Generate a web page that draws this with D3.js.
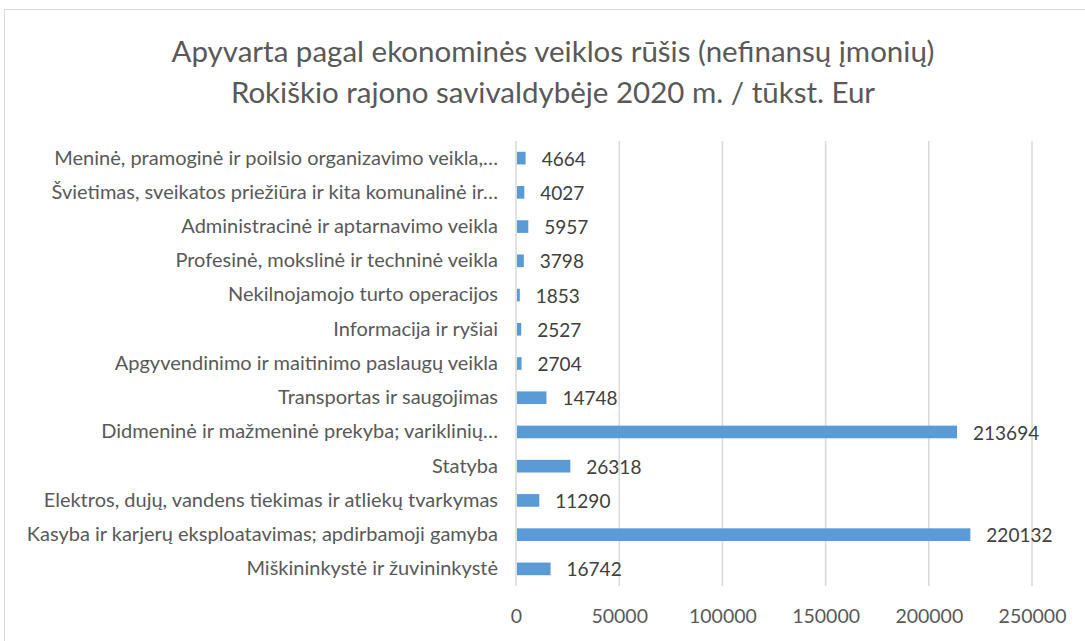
<!DOCTYPE html>
<html>
<head>
<meta charset="utf-8">
<script src="https://cdn.jsdelivr.net/npm/d3@7"></script>
<style>
  body { margin: 0; background: #fff; }
  svg { display: block; }
</style>
</head>
<body>
<svg width="1085" height="641"></svg>
<script>
// chart data, listed top to bottom as in the picture
var categories = [
  'Meninė, pramoginė ir poilsio organizavimo veikla,…',
  'Švietimas, sveikatos priežiūra ir kita komunalinė ir…',
  'Administracinė ir aptarnavimo veikla',
  'Profesinė, mokslinė ir techninė veikla',
  'Nekilnojamojo turto operacijos',
  'Informacija ir ryšiai',
  'Apgyvendinimo ir maitinimo paslaugų veikla',
  'Transportas ir saugojimas',
  'Didmeninė ir mažmeninė prekyba; variklinių…',
  'Statyba',
  'Elektros, dujų, vandens tiekimas ir atliekų tvarkymas',
  'Kasyba ir karjerų eksploatavimas; apdirbamoji gamyba',
  'Miškininkystė ir žuvininkystė'
];
var values = [4664, 4027, 5957, 3798, 1853, 2527, 2704, 14748, 213694, 26318, 11290, 220132, 16742];
var xTicks = [0, 50000, 100000, 150000, 200000, 250000];
var titleLines = [
  'Apyvarta pagal ekonominės veiklos rūšis (nefinansų įmonių)',
  'Rokiškio rajono savivaldybėje 2020 m. / tūkst. Eur'
];

var svg = d3.select('svg'),
    font = 'Lato, "Open Sans", sans-serif',
    plotL = 516, plotR = 1032, plotT = 141, plotB = 586;

// chart frame
svg.append('rect')
  .attr('x', 4.5)
  .attr('y', 9.5)
  .attr('width', 1200)
  .attr('height', 800)
  .attr('fill', '#fff')
  .attr('stroke', '#d9d9d9')
  .attr('stroke-width', 1);

svg.selectAll('.title')
  .data(titleLines)
  .enter().append('text')
  .attr('class', 'title')
  .attr('x', 553)
  .attr('y', function(d, i) { return 62 + i * 41; })
  .attr('text-anchor', 'middle')
  .attr('font-family', font)
  .attr('font-weight', 400)
  .attr('font-size', 29.5)
  .attr('fill', '#595959')
  .text(function(d) { return d; });

var x = d3.scaleLinear().domain([0, 250000]).range([plotL, plotR]);
var y = d3.scaleBand().domain(categories).range([plotT, plotB]).paddingInner(0.63).paddingOuter(0.315);

// grid
svg.selectAll('.grid')
  .data(xTicks)
  .enter().append('line')
  .attr('class', 'grid')
  .attr('x1', function(d) { return x(d); })
  .attr('x2', function(d) { return x(d); })
  .attr('y1', plotT)
  .attr('y2', plotB)
  .attr('stroke', '#d9d9d9')
  .attr('stroke-width', 1.5);

// bars
svg.selectAll('.bar')
  .data(values)
  .enter().append('rect')
  .attr('class', 'bar')
  .attr('x', x(0) + 1)
  .attr('y', function(d, i) { return y(categories[i]); })
  .attr('width', function(d) { return x(d) - x(0) - 1; })
  .attr('height', y.bandwidth())
  .attr('fill', '#5b9bd5');

// value labels
svg.selectAll('.val')
  .data(values)
  .enter().append('text')
  .attr('class', 'val')
  .attr('x', function(d) { return x(d) + 16; })
  .attr('y', function(d, i) { return y(categories[i]) + y.bandwidth() / 2; })
  .attr('dy', '0.4em')
  .attr('font-family', font)
  .attr('font-size', 19)
  .attr('fill', '#404040')
  .text(function(d) { return d; });

// category axis
var yAxis = svg.append('g')
  .attr('transform', 'translate(' + plotL + ',0)')
  .call(d3.axisLeft(y).tickSize(0).tickPadding(18));
yAxis.select('.domain').remove();
yAxis.selectAll('text')
  .attr('font-family', font)
  .attr('font-size', 20)
  .attr('fill', '#595959');

// value axis
var xAxis = svg.append('g')
  .attr('transform', 'translate(0,' + plotB + ')')
  .call(d3.axisBottom(x).tickValues(xTicks).tickSize(0).tickPadding(23).tickFormat(d3.format('d')));
xAxis.select('.domain').remove();
xAxis.selectAll('text')
  .attr('font-family', font)
  .attr('font-size', 19.5)
  .attr('fill', '#595959');
</script>
</body>
</html>
